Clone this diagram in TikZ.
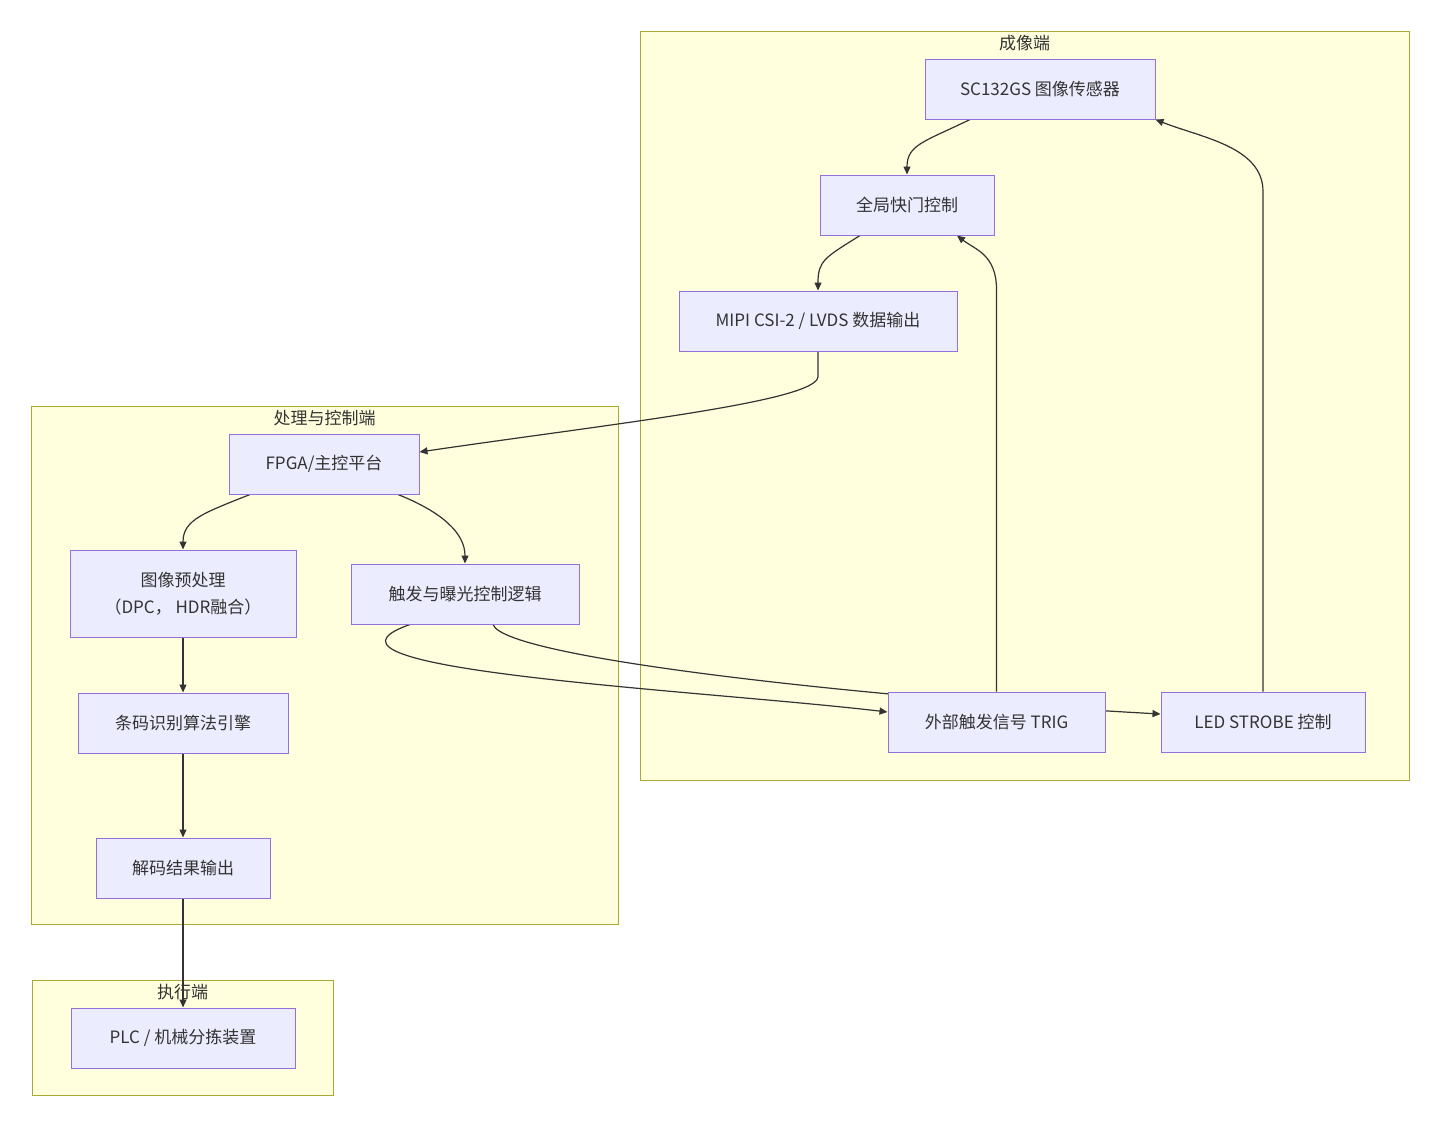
\documentclass[tikz,border=0pt]{standalone}
\usepackage{fontspec}
\setmainfont{Noto Sans CJK SC}
\usepackage{tikz}
\usetikzlibrary{positioning, arrows.meta}
\definecolor{blockfill}{HTML}{ECECFF}
\definecolor{blockline}{HTML}{9370DB}
\definecolor{groupfill}{HTML}{FFFFDE}
\definecolor{groupline}{HTML}{AAAA33}
\definecolor{linegray}{HTML}{333333}
\pgfdeclarelayer{background}
\pgfdeclarelayer{edges}
\pgfsetlayers{background,edges,main}

\begin{document}
\begin{tikzpicture}[
    x = 1pt, y = -1pt,
    font = \fontsize{17}{27}\selectfont, text = linegray,
    block/.style = {
      rectangle, draw = blockline, fill = blockfill, line width = 1pt,
      inner sep = 0pt, minimum height = 60pt, align = center
    },
    cluster/.style = {
      rectangle, draw = groupline, fill = groupfill, line width = 1pt,
      inner sep = 0pt
    },
    grouplabel/.style = {
      inner sep = 0pt
    },
    flow/.style = {
      arrows = ->, draw = linegray, line width = 1.2pt,
      > = {Triangle[length = 8pt, width = 7pt]}
    },
    link/.style = {
      draw = linegray, line width = 1.2pt
    },
    ]

    \useasboundingbox  (0, 0)  rectangle  (1440, 1127);

    % draw clusters
    \begin{pgfonlayer}{background}
    \fill  [white]  (0, 0)  rectangle  (1440, 1127);
    \node  [cluster, minimum width = 769pt, minimum height = 749pt]  (imaging)  at  (1024.5, 405.5)  {};
    \node  [cluster, minimum width = 587pt, minimum height = 518pt]  (proc)  at  (324.5, 665)  {};
    \node  [cluster, minimum width = 301pt, minimum height = 115pt]  (exec)  at  (182.5, 1037.5)  {};
    \node  [grouplabel]  (imagingtitle)  [below = 4.5pt of imaging.north]  {成像端};
    \node  [grouplabel]  (proctitle)  [below = 4.5pt of proc.north]  {处理与控制端};
    \node  [grouplabel]  (exectitle)  [below = 4.5pt of exec.north]  {执行端};
    \end{pgfonlayer}

    % draw imaging side
    \node  [block, minimum width = 230pt]  (sensor)  at  (1040, 89)  {SC132GS 图像传感器};
    \node  [block, minimum width = 174pt]  (shutter)  at  (907, 205)  {全局快门控制};
    \node  [block, minimum width = 278pt]  (mipi)  at  (818, 321)  {MIPI CSI-2 / LVDS 数据输出};
    \node  [block, minimum width = 217pt]  (trig)  at  (996.5, 722)  {外部触发信号 TRIG};
    \node  [block, minimum width = 204pt]  (led)  [right = 55pt of trig]  {LED STROBE 控制};

    % draw processing side
    \node  [block, minimum width = 190pt]  (fpga)  at  (324, 464)  {FPGA/主控平台};
    \node  [block, minimum width = 226pt, minimum height = 87pt]  (pre)  at  (183, 593.5)  {图像预处理\\（DPC， HDR融合）};
    \node  [block, minimum width = 228pt]  (logic)  at  (465, 594)  {触发与曝光控制逻辑};
    \node  [block, minimum width = 210pt]  (ocr)  [below = 55pt of pre]  {条码识别算法引擎};
    \node  [block, minimum width = 174pt]  (decode)  [below = 84pt of ocr]  {解码结果输出};

    % draw actuator side
    \node  [block, minimum width = 224pt]  (plc)  at  (183, 1038)  {PLC / 机械分拣装置};

    \begin{pgfonlayer}{edges}
    % straight paths down the decoding chain
    \foreach \a/\b in {pre/ocr, ocr/decode, decode/plc}
    \draw  [flow]  (\a)  --  (\b);

    % curved paths
    \draw  [flow]  ([xshift = -70pt]sensor.south)  .. controls +(-45, 22) and +(0, -30) ..  (shutter.north);
    \draw  [flow]  ([xshift = -47pt]shutter.south)  .. controls +(-35, 22) and +(0, -30) ..  (mipi.north);
    \draw  [flow]  (mipi.south)  --  ++(0, 25)  .. controls +(0, 25) and +(190, -28) ..  ([yshift = 12pt]fpga.east);
    \draw  [flow]  ([xshift = -74pt]fpga.south)  .. controls +(-45, 18) and +(0, -30) ..  (pre.north);
    \draw  [flow]  ([xshift = 74pt]fpga.south)  .. controls +(45, 18) and +(0, -30) ..  (logic.north);
    \draw  [flow]  ([xshift = -55pt]logic.south)  .. controls (280, 670) and (700, 690) ..  ([yshift = 10pt]trig.west);
    \draw  [flow]  ([xshift = 28pt]logic.south)  .. controls (505, 660) and (900, 700) ..  ([yshift = 8pt]led.west);
    \draw  [flow]  (trig.north)  --  ++(0, -402)  .. controls +(0, -35) and +(18, 14) ..  ([xshift = 50pt]shutter.south);
    \draw  [flow]  (led.north)  --  ++(0, -500)  .. controls +(0, -45) and +(45, 18) ..  (sensor.south east);
    \end{pgfonlayer}
\end{tikzpicture}
\end{document}
